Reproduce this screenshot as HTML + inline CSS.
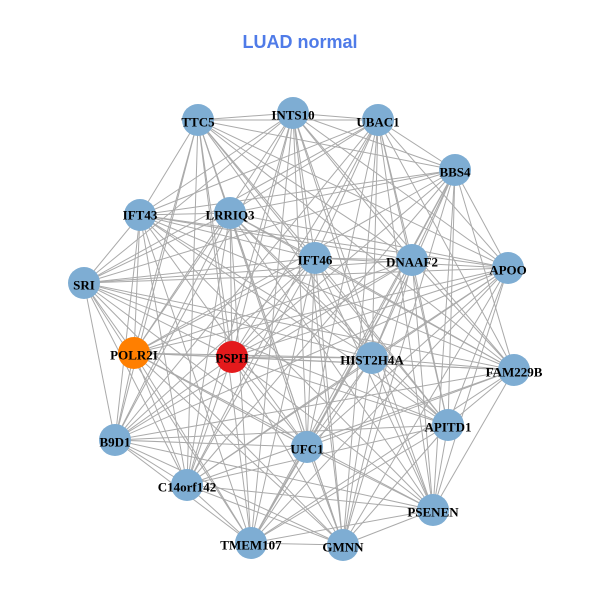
<!DOCTYPE html>
<html><head><meta charset="utf-8"><style>
html,body{margin:0;padding:0;background:#fff;}
svg{display:block;}
.t{font-family:"Liberation Serif",serif;font-weight:bold;font-size:13px;fill:#000;text-anchor:middle;dominant-baseline:central;}
</style></head><body>
<svg id="s" width="600" height="600" viewBox="0 0 600 600">
<rect width="600" height="600" fill="#fff"/>
<text x="300" y="42" text-anchor="middle" dominant-baseline="central" font-family="Liberation Sans,sans-serif" font-weight="bold" font-size="18" fill="#4f7be8">LUAD normal</text>
<g id="edges" stroke="#aaaaaa" stroke-width="1"></g>
<g id="nodes"></g>
<g id="labels">
<text class="t" x="198" y="122">TTC5</text>
<text class="t" x="293" y="115">INTS10</text>
<text class="t" x="378" y="122">UBAC1</text>
<text class="t" x="455" y="172">BBS4</text>
<text class="t" x="140" y="215">IFT43</text>
<text class="t" x="230" y="215">LRRIQ3</text>
<text class="t" x="315" y="260">IFT46</text>
<text class="t" x="412" y="262">DNAAF2</text>
<text class="t" x="508" y="270">APOO</text>
<text class="t" x="84" y="285">SRI</text>
<text class="t" x="134" y="355">POLR2I</text>
<text class="t" x="232" y="358">PSPH</text>
<text class="t" x="372" y="360">HIST2H4A</text>
<text class="t" x="514" y="372">FAM229B</text>
<text class="t" x="448" y="427">APITD1</text>
<text class="t" x="115" y="442">B9D1</text>
<text class="t" x="307" y="449">UFC1</text>
<text class="t" x="187" y="487">C14orf142</text>
<text class="t" x="433" y="512">PSENEN</text>
<text class="t" x="251" y="545">TMEM107</text>
<text class="t" x="343" y="547">GMNN</text>
</g>
</svg>
<script>
var N=[[198,120],[293,113],[378,120],[455,170],[140,215],[230,213],[315,258],[412,260],[508,268],[84,283],[134,353],[232,357],[372,358],[514,370],[448,425],[115,440],[307,447],[187,485],[433,510],[251,543],[343,545]];
var C={10:"#ff7f00",11:"#e41a1c"};
var ns="http://www.w3.org/2000/svg",e=document.getElementById("edges"),g=document.getElementById("nodes");
for(var i=0;i<N.length;i++)for(var j=i+1;j<N.length;j++){
 if((i*7+j*13)%9==0)continue;
 var l=document.createElementNS(ns,"line");
 l.setAttribute("x1",N[i][0]);l.setAttribute("y1",N[i][1]);l.setAttribute("x2",N[j][0]);l.setAttribute("y2",N[j][1]);e.appendChild(l);}
for(var i=0;i<N.length;i++){var c=document.createElementNS(ns,"circle");
 c.setAttribute("cx",N[i][0]);c.setAttribute("cy",N[i][1]);c.setAttribute("r",16);c.setAttribute("fill",C[i]||"#7eadd3");g.appendChild(c);}
</script>
</body></html>
